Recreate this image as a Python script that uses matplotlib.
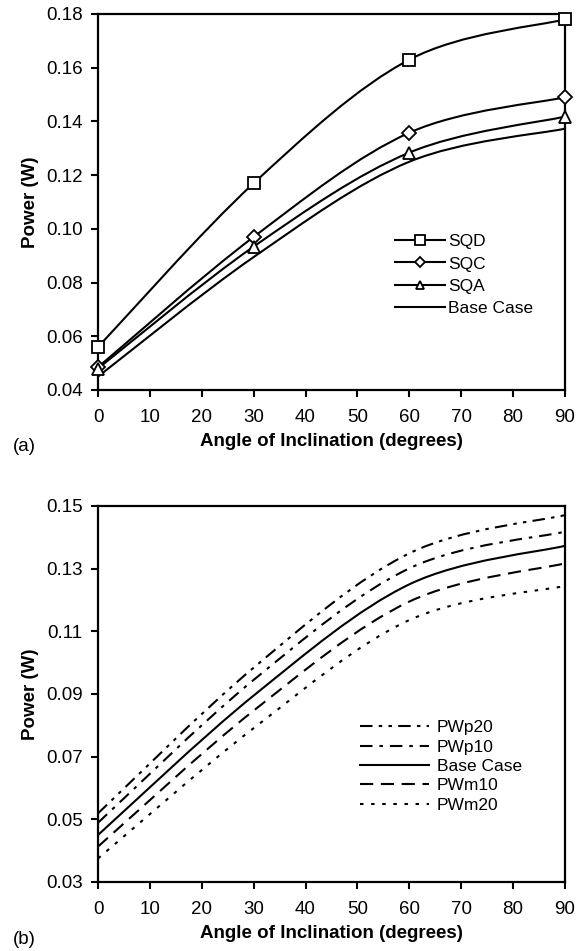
import matplotlib
matplotlib.use("Agg")
import matplotlib.pyplot as plt
from matplotlib.path import Path
from matplotlib.patches import PathPatch
from matplotlib.lines import Line2D

plt.rcParams['font.family'] = ['Liberation Sans', 'DejaVu Sans']
plt.rcParams['lines.scale_dashes'] = False

# ---------------- data ----------------
angles = [0, 30, 60, 90]
x_ticks = [0, 10, 20, 30, 40, 50, 60, 70, 80, 90]

# panel (a)
sqd = [0.056, 0.117, 0.163, 0.178]
sqc = [0.0485, 0.097, 0.1358, 0.149]
sqa = [0.048, 0.0934, 0.1284, 0.1418]
base = [0.045, 0.0895, 0.1250, 0.1373]
labels_a = ["SQD", "SQC", "SQA", "Base Case"]
yticks_a = [0.04, 0.06, 0.08, 0.10, 0.12, 0.14, 0.16, 0.18]

# panel (b)
pwp20 = [0.0519, 0.0984, 0.1349, 0.1471]
pwp10 = [0.0489, 0.0945, 0.1301, 0.1418]
pwm10 = [0.0413, 0.0847, 0.1195, 0.1317]
pwm20 = [0.0375, 0.0791, 0.1136, 0.1245]
labels_b = ["PWp20", "PWp10", "Base Case", "PWm10", "PWm20"]
yticks_b = [0.03, 0.05, 0.07, 0.09, 0.11, 0.13, 0.15]


def smooth_path(xs, ys, t=1.0 / 6.0):
    """Excel-like smoothed line as cubic Bezier path through the data points."""
    pts = list(zip(xs, ys))
    n = len(pts)
    verts = [pts[0]]
    codes = [Path.MOVETO]
    for i in range(n - 1):
        p0 = pts[i - 1] if i > 0 else pts[i]
        p1 = pts[i]
        p2 = pts[i + 1]
        p3 = pts[i + 2] if i + 2 < n else pts[i + 1]
        c1 = (p1[0] + (p2[0] - p0[0]) * t, p1[1] + (p2[1] - p0[1]) * t)
        c2 = (p2[0] - (p3[0] - p1[0]) * t, p2[1] - (p3[1] - p1[1]) * t)
        verts += [c1, c2, p2]
        codes += [Path.CURVE4] * 3
    return Path(verts, codes)


LW = 1.5
dash_styles = {
    "PWp20": (0, (9, 4.5, 2.5, 4.5, 2.5, 4.5)),
    "PWp10": (0, (9, 5, 2.5, 5)),
    "Base Case": "-",
    "PWm10": (0, (9.5, 5.5)),
    "PWm20": (0, (2.5, 5.5)),
}

fig = plt.figure(figsize=(5.78, 9.51), dpi=100)
W, H = 578, 951
ax_a = fig.add_axes([98 / W, 1 - 390 / H, 467 / W, 376 / H])
ax_b = fig.add_axes([98 / W, 1 - 882 / H, 467 / W, 376 / H])


def style_axes(ax, yticks, ylim, fmt):
    ax.set_xlim(0, 90)
    ax.set_ylim(*ylim)
    ax.set_xticks(x_ticks)
    ax.set_yticks(yticks)
    ax.set_yticklabels([fmt.format(v) for v in yticks])
    ax.tick_params(direction='out', length=5, width=1.5, labelsize=13.5)
    ax.tick_params(axis='x', pad=9)
    ax.tick_params(axis='y', pad=6)
    for s in ax.spines.values():
        s.set_linewidth(1.6)
    ax.set_xlabel("Angle of Inclination (degrees)", fontsize=13.5,
                  fontweight='bold', labelpad=5)
    ax.set_ylabel("Power (W)", fontsize=13.5, fontweight='bold', labelpad=5)


# ---------- panel (a) ----------
series_a = [sqd, sqc, sqa, base]
markers_a = ['s', 'D', '^', None]
msizes = {'s': 9, 'D': 7, '^': 8.5}
handles_a = []
for vals, mk, lab in zip(series_a, markers_a, labels_a):
    ax_a.add_patch(PathPatch(smooth_path(angles, vals), fill=False,
                             lw=LW, edgecolor='black', zorder=2))
    if mk is not None:
        ax_a.plot(angles, vals, linestyle='none', marker=mk,
                  markersize=msizes[mk], markerfacecolor='white',
                  markeredgecolor='black', markeredgewidth=1.3,
                  clip_on=False, zorder=3)
        handles_a.append(Line2D([], [], color='black', lw=LW, marker=mk,
                                markersize=msizes[mk], markerfacecolor='white',
                                markeredgecolor='black', markeredgewidth=1.3))
    else:
        handles_a.append(Line2D([], [], color='black', lw=LW))

style_axes(ax_a, yticks_a, (0.04, 0.18), "{:.2f}")
ax_a.legend(handles_a, labels_a, loc='upper left',
            bbox_to_anchor=(0.635, 0.415), frameon=False, fontsize=12.5,
            handlelength=2.9, handletextpad=0.2, labelspacing=0.42,
            markerscale=0.75, borderaxespad=0, borderpad=0)

# ---------- panel (b) ----------
series_b = [pwp20, pwp10, base, pwm10, pwm20]
handles_b = []
for vals, lab in zip(series_b, labels_b):
    ls = dash_styles[lab]
    ax_b.add_patch(PathPatch(smooth_path(angles, vals), fill=False,
                             lw=LW, edgecolor='black', linestyle=ls,
                             zorder=2))
    handles_b.append(Line2D([], [], color='black', lw=LW, linestyle=ls))

style_axes(ax_b, yticks_b, (0.03, 0.15), "{:.2f}")
ax_b.legend(handles_b, labels_b, loc='upper left',
            bbox_to_anchor=(0.56, 0.43), frameon=False, fontsize=12.5,
            handlelength=4.0, handletextpad=0.45, labelspacing=0.24,
            borderaxespad=0, borderpad=0)

fig.text(13 / W, 1 - 447 / H, "(a)", fontsize=13.5, va='center', ha='left')
fig.text(13 / W, 1 - 939 / H, "(b)", fontsize=13.5, va='center', ha='left')

fig.savefig("out.png", dpi=100)
